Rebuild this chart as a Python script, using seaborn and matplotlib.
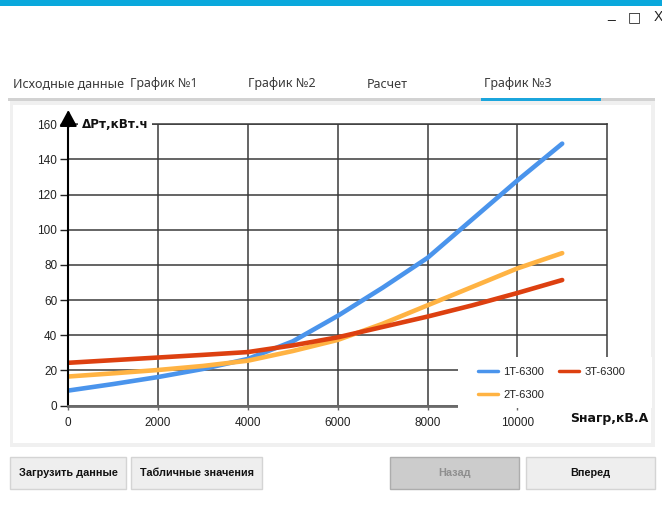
"""Transformer losses vs load chart, drawn inside a mock of the app window"""

import matplotlib as mpl
mpl.use("agg")  # no display here
import matplotlib.pyplot as plt
from matplotlib.patches import Rectangle
import pandas as pd
import seaborn as sns

# load, kVA
LOAD_KVA = [0, 1000, 2000, 3000, 4000, 5000, 6000, 7000, 8000, 9000, 10000, 11000]
# energy losses, kWh
LOSS_1T = [8.5, 12.2, 16.2, 20.8, 26.5, 36.5, 51, 67, 84, 106, 128, 149]
LOSS_2T = [16.5, 18.3, 20.2, 22.5, 25.5, 31, 37.3, 46.5, 57, 67.5, 78, 86.7]
LOSS_3T = [24.3, 25.8, 27.3, 28.8, 30.4, 34.2, 38.8, 44.7, 50.6, 57, 64, 71.4]
SERIES_NAMES = ["1T-6300", "2T-6300", "3T-6300"]
SERIES_COLOURS = ["#4a94ec", "#ffb343", "#dd4010"]

X_TICKS = [0, 2000, 4000, 6000, 8000, 10000]
Y_TICKS = [0, 20, 40, 60, 80, 100, 120, 140, 160]

TAB_NAMES = ["Исходные данные", "График №1", "График №2", "Расчет", "График №3"]
TAB_X = [13, 130, 248, 367, 484]
BUTTON_NAMES = ["Загрузить данные", "Табличные значения", "Назад", "Вперед"]
BUTTON_SPANS = [(10, 126), (131, 262), (390, 519), (526, 655)]

W, H = 662, 520
UI_FONT = ["Noto Sans", "DejaVu Sans"]
TITLE_FONT = ["DejaVu Sans"]


def fx(x):
    return x / W


def fy(y):
    return 1 - y / H


def box(fig, x0, y0, x1, y1, **kw):
    """Rectangle in screen pixels (origin top left)"""
    kw.setdefault("linewidth", 0)
    rect = Rectangle((fx(x0), fy(y1)), (x1 - x0) / W, (y1 - y0) / H,
                     transform=fig.transFigure, **kw)
    fig.add_artist(rect)
    return rect


sns.set_theme(style="white")
plt.rcParams["font.family"] = ["Liberation Sans", "DejaVu Sans"]

fig = plt.figure(figsize=(W / 100, H / 100), dpi=100, facecolor="white")

# window chrome
box(fig, 0, 0, W, 6, facecolor="#0aa8dc", zorder=-2)
fig.text(fx(611), fy(14), "_", fontsize=10, ha="center", va="center", color="#222")
fig.text(fx(634), fy(17), "□", fontsize=10, ha="center", va="center",
         color="#222", family="DejaVu Sans")
fig.text(fx(658), fy(17), "X", fontsize=10, ha="center", va="center", color="#222")

# tabs
for name, x in zip(TAB_NAMES, TAB_X):
    fig.text(fx(x), fy(84), name, fontsize=9, ha="left", va="center",
             color="#3a3a3a", family=UI_FONT)
box(fig, 8, 98, 655, 101, facecolor="#d2d2d2", zorder=-2)
box(fig, 481, 98, 601, 101, facecolor="#1ba5dc", zorder=-1.5)

# chart panel
box(fig, 10, 101, 655, 447, facecolor="#f0f0f0", zorder=-2)
box(fig, 13, 105, 651, 443, facecolor="white", zorder=-1.5)

ax = fig.add_axes([fx(68.3), fy(405.5), (607.1 - 68.3) / W, (405.5 - 124.3) / H])
ax.set_facecolor("white")

data = pd.DataFrame({
    "load": LOAD_KVA * 3,
    "loss": LOSS_1T + LOSS_2T + LOSS_3T,
    "series": [n for n in SERIES_NAMES for _ in LOAD_KVA],
})
sns.lineplot(data=data, x="load", y="loss", hue="series",
             palette=dict(zip(SERIES_NAMES, SERIES_COLOURS)),
             linewidth=3.3, solid_capstyle="round", legend=False, ax=ax)

ax.set_xlim(0, 12000)
ax.set_ylim(0, 160)
ax.set_xticks(X_TICKS)
ax.set_yticks(Y_TICKS)
ax.grid(True, color="#3a3a3a", linewidth=1.1)
ax.tick_params(axis="x", bottom=True, length=3, width=1, color="#6a6a6a",
               pad=5, labelsize=8.5, labelcolor="#222")
ax.tick_params(axis="y", left=True, length=6, width=1, color="#222",
               pad=2, labelsize=8.5, labelcolor="#222")
ax.set_ylabel("")
ax.set_xlabel("Sнагр,кВ.А", fontsize=9, fontweight="bold", color="#111",
              family=TITLE_FONT)
ax.xaxis.set_label_coords(1.0035, -0.048)
ax.xaxis.label.set_va("center")

for side in ("top", "right"):
    ax.spines[side].set_color("#3a3a3a")
    ax.spines[side].set_linewidth(1.1)
ax.spines["left"].set_color("black")
ax.spines["left"].set_linewidth(1.5)
ax.spines["bottom"].set_color("#6a6a6a")
ax.spines["bottom"].set_linewidth(2)

# y axis arrow and title sitting on the top border
ax.annotate("", xy=(0, 1.0508), xytext=(0, 0.99), xycoords="axes fraction",
            arrowprops=dict(arrowstyle="-|>,head_length=0.52,head_width=0.28",
                            color="black", lw=1.5, mutation_scale=19,
                            shrinkA=0, shrinkB=0),
            annotation_clip=False)
ax.text(0.0254, 1.0, "ΔPт,кВт.ч", transform=ax.transAxes, fontsize=8.6,
        fontweight="bold", color="#111", ha="left", va="center", zorder=3,
        family=TITLE_FONT,
        bbox=dict(boxstyle="square,pad=0.3", facecolor="white", edgecolor="none"))

# legend sits on a white block that hides the lower right of the grid
box(fig, 458, 357, 652, 408, facecolor="white", zorder=2.6)
leg = ax.legend(ax.lines[:3], SERIES_NAMES, loc="upper left",
                bbox_to_anchor=(fx(478), fy(367)), bbox_transform=fig.transFigure,
                ncol=2, frameon=False, fontsize=8, borderpad=0, borderaxespad=0,
                handlelength=1.8, handletextpad=0.5, columnspacing=1.3,
                labelspacing=1.15)
for h in leg.legend_handles:
    h.set_linewidth(2.5)
for t in leg.get_texts():
    t.set_color("#222")
leg.set_zorder(5)
fig.add_artist(leg)

# buttons
for (x0, x1), name in zip(BUTTON_SPANS, BUTTON_NAMES):
    disabled = name == "Назад"
    box(fig, x0, 457, x1, 489, facecolor="#cccccc" if disabled else "#eeeeee",
        edgecolor="#adadad" if disabled else "#d4d4d4", linewidth=1, zorder=-1)
    fig.text(fx((x0 + x1) / 2), fy(473), name, fontsize=7.8, ha="center",
             va="center", color="#8f8f8f" if disabled else "#111",
             fontweight="bold")

fig.savefig("out.png", dpi=100, facecolor="white")
plt.close(fig)
